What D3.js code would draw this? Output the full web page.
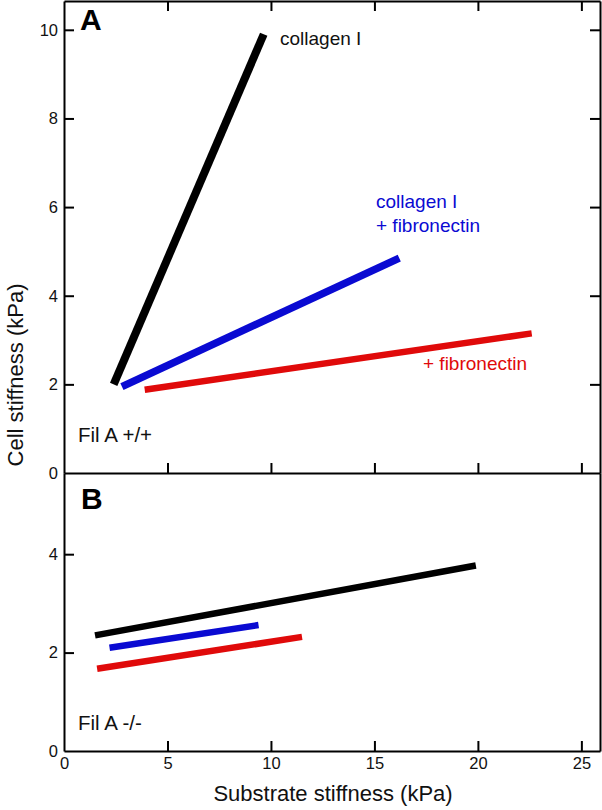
<!DOCTYPE html>
<html><head><meta charset="utf-8">
<script src="https://cdn.jsdelivr.net/npm/d3@7"></script>
<style>body{margin:0;background:#fff}svg{display:block;font-family:"Liberation Sans",Arial,sans-serif}</style>
</head><body><svg id="c" width="602" height="810"></svg>
<script>
// Data
const xTicks = [0, 5, 10, 15, 20, 25];
const yTicksA = [0, 2, 4, 6, 8, 10];
const yTicksB = [0, 2, 4];
const seriesNames = ["collagen I", "collagen I + fibronectin", "+ fibronectin"];
const seriesColors = ["#000000", "#0a0ad2", "#e00a0a"];
// Panel A (Fil A +/+): [substrate stiffness, cell stiffness] end points
const panelA_collagen = [[2.4, 2.0], [9.65, 9.9]];
const panelA_colFn = [[2.8, 1.95], [16.2, 4.85]];
const panelA_fn = [[3.9, 1.88], [22.6, 3.15]];
// Panel B (Fil A -/-)
const panelB_collagen = [[1.5, 2.35], [19.9, 3.77]];
const panelB_colFn = [[2.2, 2.1], [9.4, 2.56]];
const panelB_fn = [[1.6, 1.67], [11.5, 2.32]];

const svg = d3.select("#c");
const left = 64, right = 600;
const aTop = 1, aBot = 473, bTop = 473, bBot = 751;
const x = d3.scaleLinear().domain([0, 25.9]).range([left, right]);
const yA = d3.scaleLinear().domain([0, 10.65]).range([aBot, aTop]);
const yB = d3.scaleLinear().domain([0, 5.65]).range([bBot, bTop]);
const line = (ys) => d3.line().x(d => x(d[0])).y(d => ys(d[1]));

const tickLen = 10;
const fmt = d3.format("d");
const axisStyle = g => { g.selectAll(".domain").attr("stroke", "#000").attr("stroke-width", 2);
  g.selectAll(".tick line").attr("stroke", "#000").attr("stroke-width", 2);
  g.selectAll("text").attr("font-size", 16.5).attr("fill", "#111").attr("font-family", '"Liberation Sans",Arial,sans-serif'); };

// Panel A axes
svg.append("g").attr("transform", `translate(${left},0)`)
  .call(d3.axisLeft(yA).tickValues(yTicksA).tickFormat(fmt).tickSize(-tickLen).tickPadding(6).tickSizeOuter(0)).call(axisStyle)
  .call(g => g.selectAll(".tick").filter(d => d === 0).select("line").remove());
svg.append("g").attr("transform", `translate(${right},0)`)
  .call(d3.axisRight(yA).tickValues(yTicksA.slice(1)).tickSize(-tickLen).tickSizeOuter(0).tickFormat("")).call(axisStyle);
svg.append("g").attr("transform", `translate(0,${aTop})`)
  .call(d3.axisTop(x).tickValues(xTicks.slice(1)).tickSize(-tickLen).tickSizeOuter(0).tickFormat("")).call(axisStyle);
svg.append("g").attr("transform", `translate(0,${aBot})`)
  .call(d3.axisBottom(x).tickValues(xTicks.slice(1)).tickSize(-tickLen).tickSizeOuter(0).tickFormat("")).call(axisStyle);

// Panel B axes
svg.append("g").attr("transform", `translate(${left},0)`)
  .call(d3.axisLeft(yB).tickValues(yTicksB).tickFormat(fmt).tickSize(-tickLen).tickPadding(6).tickSizeOuter(0)).call(axisStyle)
  .call(g => g.selectAll(".tick").filter(d => d === 0).select("line").remove());
svg.append("g").attr("transform", `translate(${right},0)`)
  .call(d3.axisRight(yB).tickValues([]).tickSizeOuter(0)).call(axisStyle);
svg.append("g").attr("transform", `translate(0,${bBot})`)
  .call(d3.axisBottom(x).tickValues(xTicks).tickFormat(fmt).tickSize(-tickLen).tickPadding(6).tickSizeOuter(0)).call(axisStyle)
  .call(g => g.selectAll(".tick").filter(d => d === 0).select("line").remove());

// Lines
const drawLine = (data, ys, color, w) => svg.append("path").datum(data).attr("d", line(ys))
  .attr("fill", "none").attr("stroke", color).attr("stroke-width", w).attr("stroke-linecap", "butt");
drawLine(panelA_collagen, yA, seriesColors[0], 8);
drawLine(panelA_colFn, yA, seriesColors[1], 7.5);
drawLine(panelA_fn, yA, seriesColors[2], 6.5);
drawLine(panelB_collagen, yB, seriesColors[0], 6.5);
drawLine(panelB_colFn, yB, seriesColors[1], 6.5);
drawLine(panelB_fn, yB, seriesColors[2], 6.5);

// Labels
const txt = (s, px, py, opts = {}) => svg.append("text").attr("x", px).attr("y", py)
  .attr("font-size", opts.size || 19).attr("font-weight", opts.weight || "normal")
  .attr("fill", opts.fill || "#111").attr("text-anchor", opts.anchor || "start").text(s);
txt("A", 80, 30, {size: 30, weight: "bold", fill: "#000"});
txt("B", 81, 509, {size: 30, weight: "bold", fill: "#000"});
txt("collagen I", 280, 45);
txt("collagen I", 376, 208, {fill: seriesColors[1]});
txt("+ fibronectin", 376, 232, {fill: seriesColors[1]});
txt("+ fibronectin", 423, 370, {fill: seriesColors[2]});
txt("Fil A +/+", 78, 442, {size: 20.5});
txt("Fil A -/-", 78, 730, {size: 20.5});
txt("Substrate stiffness (kPa)", 333, 801, {size: 22, anchor: "middle"});
svg.append("text").attr("transform", "translate(23,375) rotate(-90)").attr("text-anchor", "middle")
  .attr("font-size", 22).attr("fill", "#111").text("Cell stiffness (kPa)");
</script></body></html>
